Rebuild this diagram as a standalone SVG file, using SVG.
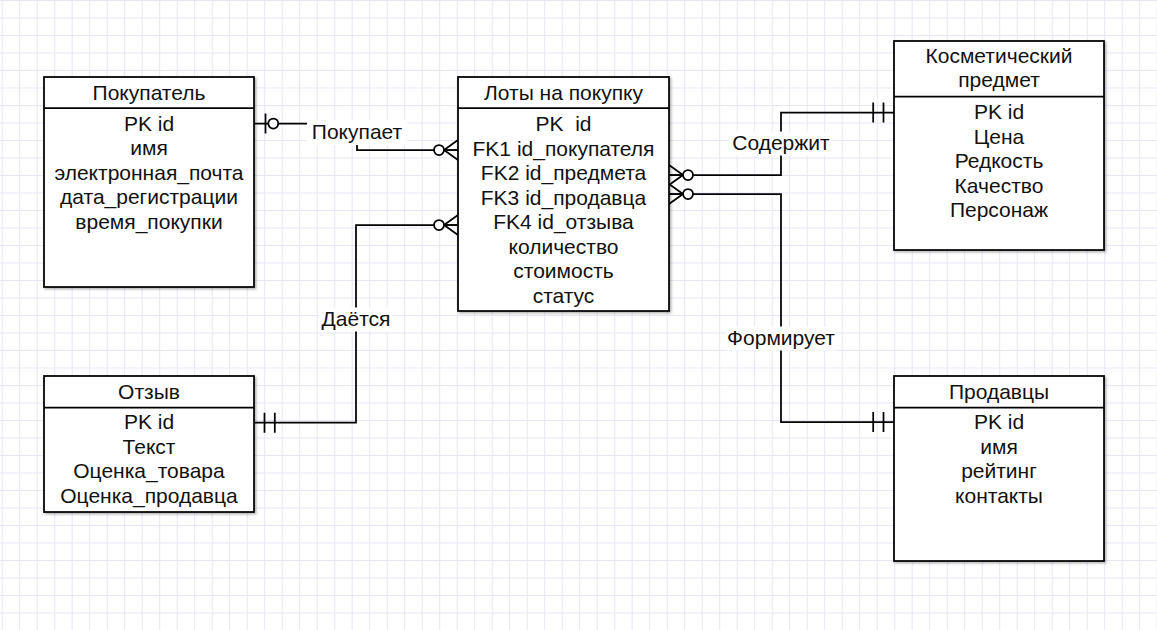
<svg xmlns="http://www.w3.org/2000/svg" width="1157" height="630" viewBox="0 0 1157 630">
<style>
text{font-family:"Liberation Sans",Arial,Helvetica,sans-serif;font-size:21px;fill:#111;text-anchor:middle;white-space:pre}
.box{fill:#fff;stroke:#000;stroke-width:1.75;filter:url(#sh)}
.hl{stroke:#000;stroke-width:1.75}
.conn{fill:none;stroke:#000;stroke-width:1.75}
.lbg{fill:#fff}
.mk{fill:#fff;stroke:#000;stroke-width:1.75}
</style>
<defs>
<pattern id="grid" patternUnits="userSpaceOnUse" x="1.7" y="0" width="17.5" height="17.5">
<path d="M0.5,0 V17.5 M0,0.5 H17.5" stroke="#e6e6f6" stroke-width="1" fill="none"/>
</pattern>
<filter id="sh" x="-5%" y="-5%" width="115%" height="115%">
<feDropShadow dx="1.5" dy="1.5" stdDeviation="0.8" flood-color="#000" flood-opacity="0.3"/>
</filter>
<marker id="manyZero" markerUnits="userSpaceOnUse" markerWidth="40" markerHeight="30" refX="0" refY="0" viewBox="-30 -15 40 30" orient="auto-start-reverse" overflow="visible">
<path d="M-14,0 L0,-10 M-14,0 L0,10 M-14,0 L0,0" class="mk" fill="none"/>
<circle cx="-19" cy="0" r="5" class="mk"/>
</marker>
<marker id="oneZero" markerUnits="userSpaceOnUse" markerWidth="40" markerHeight="30" refX="0" refY="0" viewBox="-30 -15 40 30" orient="auto-start-reverse" overflow="visible">
<path d="M-11.5,-10 V10" class="mk"/>
<circle cx="-19.3" cy="0" r="5" class="mk"/>
</marker>
<marker id="oneOne" markerUnits="userSpaceOnUse" markerWidth="40" markerHeight="30" refX="0" refY="0" viewBox="-30 -15 40 30" orient="auto-start-reverse" overflow="visible">
<path d="M-10.5,-10 V10 M-20.8,-10 V10" class="mk"/>
</marker>
</defs>
<rect width="1157" height="630" fill="#fff"/>
<rect width="1157" height="630" fill="url(#grid)"/>

<g id="connectors">
<path class="conn" d="M254,123.5 H357 V150 H458" marker-start="url(#oneZero)" marker-end="url(#manyZero)"/>
<path class="conn" d="M669,175 H781 V112.5 H894" marker-start="url(#manyZero)" marker-end="url(#oneOne)"/>
<path class="conn" d="M669,194 H781 V422 H894" marker-start="url(#manyZero)" marker-end="url(#oneOne)"/>
<path class="conn" d="M458,225 H356 V422.7 H254" marker-start="url(#manyZero)" marker-end="url(#oneOne)"/>
<g id="label-pokupaet"><rect class="lbg" x="307" y="120" width="100" height="25"/><text x="357" y="138.5">Покупает</text></g>
<g id="label-soderzhit"><rect class="lbg" x="729" y="131.5" width="104" height="24"/><text x="781" y="150">Содержит</text></g>
<g id="label-daetsya"><rect class="lbg" x="319" y="307.5" width="74" height="24"/><text x="356" y="326">Даётся</text></g>
<g id="label-formiruet"><rect class="lbg" x="726" y="326.5" width="110" height="24"/><text x="781" y="345">Формирует</text></g>
</g>

<g id="node-pokupatel">
<rect class="box" x="44" y="77" width="210" height="210"/>
<line class="hl" x1="44" y1="108" x2="254" y2="108"/>
<text x="149" y="100">Покупатель</text>
<text x="149" y="130.7">PK id</text>
<text x="149" y="155.2">имя</text>
<text x="149" y="179.7">электронная_почта</text>
<text x="149" y="204.2">дата_регистрации</text>
<text x="149" y="228.7">время_покупки</text>
</g>

<g id="node-loty">
<rect class="box" x="458" y="77" width="211" height="234"/>
<line class="hl" x1="458" y1="108" x2="669" y2="108"/>
<text x="563.5" y="100">Лоты на покупку</text>
<text x="563.5" y="131">PK  id</text>
<text x="563.5" y="155.5">FK1 id_покупателя</text>
<text x="563.5" y="180">FK2 id_предмета</text>
<text x="563.5" y="204.5">FK3 id_продавца</text>
<text x="563.5" y="229">FK4 id_отзыва</text>
<text x="563.5" y="253.5">количество</text>
<text x="563.5" y="278">стоимость</text>
<text x="563.5" y="302.5">статус</text>
</g>

<g id="node-kosmetika">
<rect class="box" x="894" y="41" width="210" height="209"/>
<line class="hl" x1="894" y1="96.5" x2="1104" y2="96.5"/>
<text x="999" y="62.7">Косметический</text>
<text x="999" y="87">предмет</text>
<text x="999" y="119">PK id</text>
<text x="999" y="143.5">Цена</text>
<text x="999" y="168">Редкость</text>
<text x="999" y="192.5">Качество</text>
<text x="999" y="217">Персонаж</text>
</g>

<g id="node-prodavtsy">
<rect class="box" x="894" y="376" width="210" height="185"/>
<line class="hl" x1="894" y1="407.5" x2="1104" y2="407.5"/>
<text x="999" y="398.5">Продавцы</text>
<text x="999" y="429.3">PK id</text>
<text x="999" y="453.8">имя</text>
<text x="999" y="478.3">рейтинг</text>
<text x="999" y="502.8">контакты</text>
</g>

<g id="node-otzyv">
<rect class="box" x="44" y="376" width="210" height="136"/>
<line class="hl" x1="44" y1="407.5" x2="254" y2="407.5"/>
<text x="149" y="398.5">Отзыв</text>
<text x="149" y="429.3">PK id</text>
<text x="149" y="453.8">Текст</text>
<text x="149" y="478.3">Оценка_товара</text>
<text x="149" y="502.8">Оценка_продавца</text>
</g>
</svg>
